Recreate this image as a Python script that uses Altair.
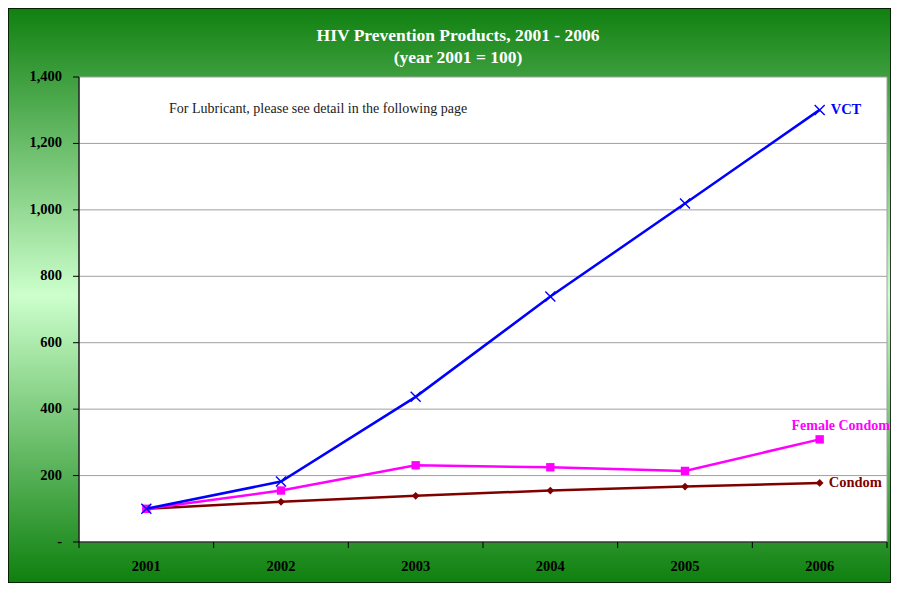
import altair as alt
import pandas as pd

years = [2001, 2002, 2003, 2004, 2005, 2006]
vct = [100, 182, 437, 739, 1019, 1301]
female_condom = [100, 155, 231, 225, 214, 309]
condom = [100, 121, 139, 155, 167, 178]
y_ticks = [0, 200, 400, 600, 800, 1000, 1200, 1400]
grid_values = [200, 400, 600, 800, 1000, 1200]
tick_bounds = [2000.5, 2001.5, 2002.5, 2003.5, 2004.5, 2005.5, 2006.5]

title_lines = ["HIV Prevention Products, 2001 - 2006", "(year 2001 = 100)"]
note = "For Lubricant, please see detail in the following page"

W, H = 808, 465
PAD = {"left": 71, "top": 69, "right": 4, "bottom": 41}
SERIF = "Liberation Serif"

df = pd.DataFrame({
    "year": years * 3,
    "value": condom + female_condom + vct,
    "series": ["Condom"] * 6 + ["Female Condom"] * 6 + ["VCT"] * 6,
})

xs = alt.Scale(domain=[2000.5, 2006.5], nice=False, zero=False)
ys = alt.Scale(domain=[0, 1400], nice=False, zero=True)
X = alt.X("year:Q", scale=xs, axis=None)
Y = alt.Y("value:Q", scale=ys, axis=None)

one = alt.Data(values=[{}])

gradient = alt.LinearGradient(
    gradient="linear",
    stops=[
        alt.GradientStop(color="#108010", offset=0),
        alt.GradientStop(color="#ccffcc", offset=0.5),
        alt.GradientStop(color="#0e800e", offset=1),
    ],
    x1=0, x2=0, y1=0, y2=1,
)

bg = alt.Chart(one).mark_rect(color=gradient, stroke="black", strokeWidth=1.5).encode(
    x=alt.value(-PAD["left"]), x2=alt.value(W + PAD["right"]),
    y=alt.value(-PAD["top"]), y2=alt.value(H + PAD["bottom"]),
)

plot_bg = alt.Chart(one).mark_rect(fill="white", stroke="#a0a0a0", strokeWidth=1).encode(
    x=alt.value(0), x2=alt.value(W), y=alt.value(0), y2=alt.value(H),
)

grid = alt.Chart(pd.DataFrame({"value": grid_values})).mark_rule(color="#a0a0a0", strokeWidth=1).encode(
    y=Y, x=alt.value(0), x2=alt.value(W),
)

# axes drawn through the shared scales
xticks = alt.Chart(pd.DataFrame({"year": tick_bounds})).mark_rule(color="black", strokeWidth=1).encode(
    x=X, y=alt.value(H), y2=alt.value(H + 6),
)
yticks = alt.Chart(pd.DataFrame({"value": y_ticks})).mark_rule(color="black", strokeWidth=1).encode(
    y=Y, x=alt.value(-6), x2=alt.value(0),
)
ylabels = alt.Chart(pd.DataFrame({"value": y_ticks})).transform_calculate(
    lab="datum.value == 0 ? '-' : format(datum.value, ',')"
).mark_text(font=SERIF, fontSize=14.5, fontWeight="bold", color="black", align="right",
            baseline="middle").encode(y=Y, x=alt.value(-17), text="lab:N")
xlabels = alt.Chart(pd.DataFrame({"year": years})).transform_calculate(
    lab="format(datum.year, 'd')"
).mark_text(font=SERIF, fontSize=14.5, fontWeight="bold", color="black", align="center",
            baseline="middle").encode(x=X, y=alt.value(H + 25), text="lab:N")
ydomain = alt.Chart(one).mark_rule(color="black", strokeWidth=1.2).encode(
    x=alt.value(0), y=alt.value(0), y2=alt.value(H))
xdomain = alt.Chart(one).mark_rule(color="black", strokeWidth=1.2).encode(
    x=alt.value(0), x2=alt.value(W), y=alt.value(H))

colors = {"Condom": "#800000", "Female Condom": "#ff00ff", "VCT": "#0000ff"}

layers = [bg, plot_bg, grid, xticks, yticks, ydomain, xdomain, ylabels, xlabels]
for name in ["Condom", "Female Condom", "VCT"]:
    base = alt.Chart(df).transform_filter(alt.datum.series == name)
    line = base.mark_line(color=colors[name], strokeWidth=2.5).encode(x=X, y=Y)
    if name == "VCT":
        pts = base.mark_point(shape="M-1,-1L1,1M-1,1L1,-1", filled=False, color=colors[name],
                              strokeWidth=1.4, size=100, opacity=1)
    elif name == "Female Condom":
        pts = base.mark_point(shape="square", filled=True, color=colors[name], size=70, opacity=1)
    else:
        pts = base.mark_point(shape="diamond", filled=True, color=colors[name], size=60, opacity=1)
    pts = pts.encode(x=X, y=Y)
    layers += [line, pts]

last = df[df["year"] == years[-1]]
label_cfg = {
    "VCT": dict(align="left", dx=11, dy=0, fontSize=14.5),
    "Female Condom": dict(align="center", dx=21, dy=-13, fontSize=14),
    "Condom": dict(align="left", dx=9, dy=0, fontSize=14.5),
}
for name, cfg in label_cfg.items():
    t = alt.Chart(last[last["series"] == name]).mark_text(
        font=SERIF, fontWeight="bold", color=colors[name],
        baseline="middle", **cfg,
    ).encode(x=X, y=Y, text="series:N")
    layers.append(t)

note_layer = alt.Chart(one).mark_text(
    text=note, font=SERIF, fontSize=14, color="#1a1a1a", align="left", baseline="middle",
).encode(x=alt.value(90), y=alt.value(32))
layers.append(note_layer)

for line_text, ypos in zip(title_lines, [-36, -14]):
    layers.append(alt.Chart(one).mark_text(
        text=line_text, font=SERIF, fontSize=17.5, fontWeight="bold", color="white",
        align="center", baseline="alphabetic",
    ).encode(x=alt.value(379), y=alt.value(ypos)))

chart = alt.layer(*layers).properties(
    width=W, height=H,
    autosize=alt.AutoSizeParams(type="none"),
    padding=PAD,
    background="white",
).configure_view(stroke=None)

chart.save("out.html", embed_options={"renderer": "svg", "actions": False})
